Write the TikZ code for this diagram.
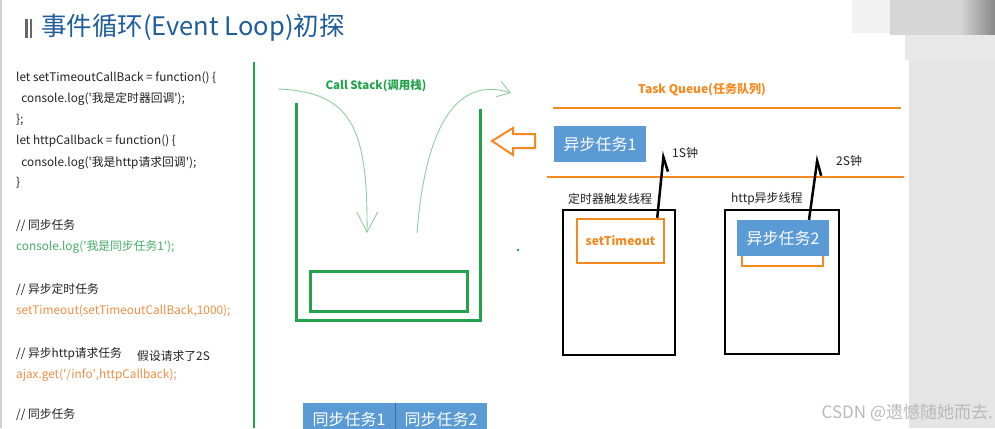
\documentclass[tikz,border=0pt]{standalone}
\usepackage{fontspec}
\setmainfont{Noto Sans CJK SC}
\usetikzlibrary{arrows.meta}
\definecolor{titleblue}{HTML}{1F5E9C}
\definecolor{stackgreen}{HTML}{22A24A}
\definecolor{curvegreen}{HTML}{8FCE9E}
\definecolor{codegreen}{HTML}{45AC66}
\definecolor{codeorange}{HTML}{F08E45}
\definecolor{qorange}{HTML}{F5891F}
\definecolor{taskblue}{HTML}{5B9BD5}
\definecolor{codeblack}{HTML}{222222}
\newcommand{\q}{\textquotesingle}

\begin{document}
\begin{tikzpicture}[x=1pt, y=-1pt, every node/.style={inner sep=0pt},
	code/.style={anchor=west, text=codeblack, font=\fontsize{11.8}{14}\selectfont},
	label/.style={anchor=west, text=codeblack, font=\fontsize{12}{14}\selectfont},
	task/.style={fill=taskblue, text=white, font=\fontsize{16}{18}\selectfont, minimum width=92pt, minimum height=36pt},
	thread/.style={draw=black, line width=2.5pt, minimum width=112pt, minimum height=145pt},
	wait/.style={black, line width=2.5pt, -{Straight Barb[harpoon, swap, length=14pt, width=12pt]}},
	>={Straight Barb[length=20pt, width=21pt]}]
	\clip (0,0) rectangle (995,428);
	\useasboundingbox (0,0) rectangle (995,428);
	% screen frame
	\fill[white] (0,0) rectangle (995,428);
	\draw[gray!35, line width=1.5pt] (1,0) -- (1,428);
	\fill[gray!10] (852,0) rectangle (890,33);
	\fill[gray!32] (890,0) rectangle (960,35);
	\shade[left color=gray!32, right color=gray!94] (960,0) rectangle (995,35);
	\fill[gray!18] (905,35) rectangle (995,60);
	\fill[gray!20] (909,60) rectangle (995,428);
	% title
	\fill[gray!80!black] (25,19) rectangle (27.5,38);
	\fill[gray!80!black] (29.5,19) rectangle (32,38);
	\node[anchor=west, text=titleblue, font=\fontsize{25.5}{28}\selectfont] (title) at (41,28) {事件循环(Event Loop)初探};
	% code
	\node[code] (c1) at (16,78) {let setTimeoutCallBack = function() \{};
	\node[code] (c2) at (16,99) {\ \ console.log(\q 我是定时器回调\q);};
	\node[code] (c3) at (16,120) {\};};
	\node[code] (c4) at (16,141) {let httpCallback = function() \{};
	\node[code] (c5) at (16,163) {\ \ console.log(\q 我是http请求回调\q);};
	\node[code] (c6) at (16,183) {\}};
	\node[code] (c7) at (16,226) {// 同步任务};
	\node[code, text=codegreen] (c8) at (16,247) {console.log(\q 我是同步任务1\q);};
	\node[code] (c9) at (16,290) {// 异步定时任务};
	\node[code, text=codeorange] (c10) at (16,311) {setTimeout(setTimeoutCallBack,1000);};
	\node[code] (c11) at (16,354) {// 异步http请求任务};
	\node[code] (c11b) at (137,356) {假设请求了2S};
	\node[code, text=codeorange] (c12) at (16,375) {ajax.get(\q/info\q,httpCallback);};
	\node[code] (c13) at (16,415) {// 同步任务};
	\draw[stackgreen, line width=2.5pt] (254,62) -- (254,428);
	% call stack
	\node[text=stackgreen, font=\bfseries\fontsize{11.5}{13}\selectfont] (stacklbl) at (376,86) {Call Stack(调用栈)};
	\draw[stackgreen, line width=3pt] (296,103) -- (296,320) -- (480,320) -- (480,109);
	\node[draw=stackgreen, line width=3pt, minimum width=157pt, minimum height=40pt] (slot) at (388.5,291) {};
	\coordinate (pushend) at (367,233);
	\coordinate (popstart) at (417,233);
	\coordinate (popend) at (511,93);
	\draw[curvegreen, line width=0.9pt, ->] (278,89) .. controls (350,92) and (368,125) .. (pushend);
	\draw[curvegreen, line width=0.9pt, -{Straight Barb[length=12pt, width=16pt]}] (popstart) .. controls (425,130) and (455,75) .. (popend);
	\draw[qorange, line width=2pt, fill=white] (492,141) -- (513,128) -- (513,134) -- (535,134) -- (535,148) -- (513,148) -- (513,155) -- cycle;
	\fill[stackgreen] (518,250) circle (1.3);
	% task queue
	\node[text=qorange, font=\bfseries\fontsize{12}{14}\selectfont] (queuelbl) at (702,90) {Task Queue(任务队列)};
	\draw[qorange, line width=2.5pt] (553,108) -- (901,108);
	\draw[qorange, line width=2.5pt] (547,177) -- (904,177);
	\node[task] (async1) at (600,144) {异步任务1};
	% web api threads
	\node[label] (timerlbl) at (568,199) {定时器触发线程};
	\node[label] (httplbl) at (731,199) {http异步线程};
	\node[thread] (timer) at (619,282.5) {};
	\node[thread, minimum width=114pt, minimum height=144pt] (http) at (782,282) {};
	\node[draw=qorange, line width=2.5pt, minimum width=87pt, minimum height=44pt, text=qorange, font=\bfseries\fontsize{12}{14}\selectfont] (sett) at (620.5,241) {setTimeout};
	\node[draw=qorange, line width=2.5pt, minimum width=81pt, minimum height=26pt] (ajax) at (782.5,253) {};
	\node[task] (async2) at (783,238) {异步任务2};
	\coordinate (t1) at (664,151);
	\coordinate (t2) at (818,155);
	\draw[wait] ([xshift=-8pt]sett.north east) -- (t1);
	\draw[wait] ([xshift=26pt]async2.north) -- (t2);
	\node[label, anchor=west] (sec1) at (672,153) {1S钟};
	\node[label, anchor=west] (sec2) at (836,161) {2S钟};
	% main thread tasks
	\node[task, minimum height=42pt] (sync1) at (349,424) {};
	\node[task, minimum height=42pt] (sync2) at (441,424) {};
	\node[text=white, font=\fontsize{16}{18}\selectfont] (sync1txt) at (349,419) {同步任务1};
	\node[text=white, font=\fontsize{16}{18}\selectfont] (sync2txt) at (441,419) {同步任务2};
	\draw[taskblue!70!black, line width=1pt] (sync1.north east) -- (sync1.south east);
	% watermark
	\node[anchor=east, text=gray!55, font=\fontsize{17}{19}\selectfont] (mark) at (993,413) {CSDN @遗憾随她而去.};
\end{tikzpicture}
\end{document}
